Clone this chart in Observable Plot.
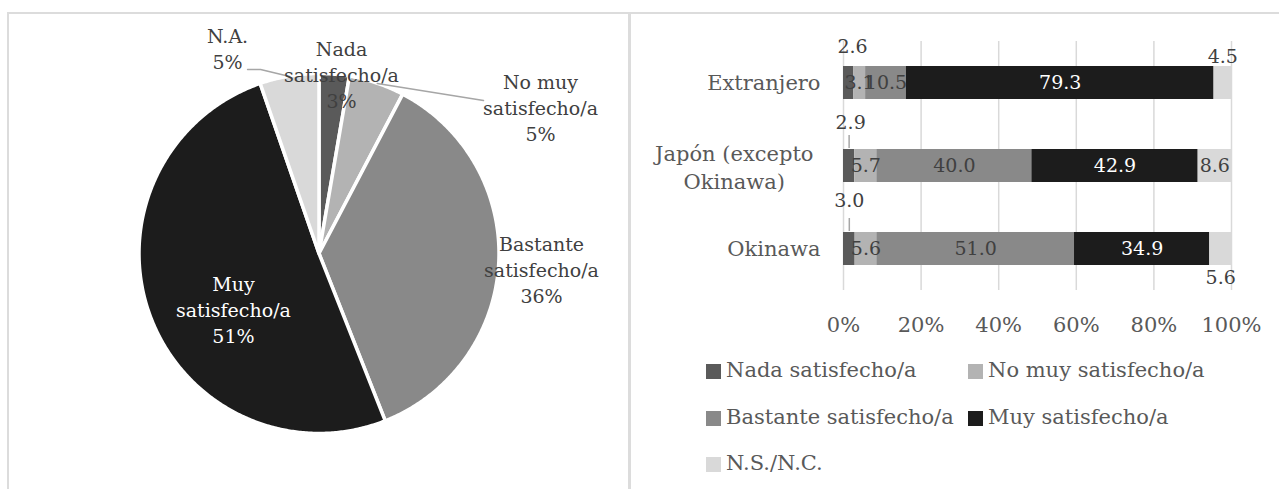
<!DOCTYPE html>
<html><head><meta charset="utf-8">
<script src="https://cdn.jsdelivr.net/npm/d3@7"></script>
<script src="https://cdn.jsdelivr.net/npm/@observablehq/plot@0.6"></script>
<style>
html,body{margin:0;padding:0;background:#fff;}
#root{position:relative;width:1279px;height:489px;overflow:hidden;font-family:"DejaVu Serif",serif;}
.panel{position:absolute;border:2px solid #dcdcdc;box-sizing:border-box;}
#pie,#bars{position:absolute;top:0;}
#pie{left:0;width:629px;}
#bars{left:632px;width:647px;}
.lg{position:absolute;display:flex;align-items:center;height:30px;font-size:21px;color:#595959;white-space:nowrap;}
.lg .sw{width:15px;height:15px;margin-right:5px;margin-top:3px;display:inline-block;}
svg{overflow:visible;max-width:none !important;}
</style></head>
<body><div id="root">
<div class="panel" style="left:7px;top:12px;width:623px;height:520px"></div>
<div class="panel" style="left:629px;top:12px;width:700px;height:520px"></div>
<div id="pie"></div>
<div id="bars"></div>
<div id="legend"></div>
</div>
<script>
// ---------- data ----------
const pieCats = ["Nada satisfecho/a", "No muy satisfecho/a", "Bastante satisfecho/a", "Muy satisfecho/a", "N.A."];
const pieValues = [2.7, 5.0, 36.3, 50.7, 5.3];
const grayColors = ["#5a5a5a", "#b3b3b3", "#898989", "#1c1c1c", "#d9d9d9"];

const barCats = ["Extranjero", "Japón (excepto Okinawa)", "Okinawa"];
const barSeries = ["Nada satisfecho/a", "No muy satisfecho/a", "Bastante satisfecho/a", "Muy satisfecho/a", "N.S./N.C."];
const nada = [2.6, 2.9, 3.0];
const noMuy = [3.1, 5.7, 5.6];
const bastante = [10.5, 40.0, 51.0];
const muy = [79.3, 42.9, 34.9];
const nsnc = [4.5, 8.6, 5.6];
const xTicks = [0, 0.2, 0.4, 0.6, 0.8, 1];

// ---------- pie ----------
const PW = 629, PH = 489, CX = 319, CY = 253.5, R = 180;
const total = d3.sum(pieValues);
let acc = 0;
const slices = pieCats.map((c, i) => {
  const a0 = acc / total * 2 * Math.PI; acc += pieValues[i];
  const a1 = acc / total * 2 * Math.PI;
  return {cat: c, value: pieValues[i], a0, a1, mid: (a0 + a1) / 2};
});
const arcPts = slices.flatMap(s => {
  const n = Math.max(2, Math.ceil((s.a1 - s.a0) / (Math.PI / 360)));
  return d3.range(n + 1).map(k => {
    const a = s.a0 + (s.a1 - s.a0) * k / n;
    return {cat: s.cat, x1: Math.sin(a), y1: Math.cos(a), x2: 0, y2: 0};
  });
});
// label placement (polar: degrees clockwise from 12 o'clock, radius factor)
const pieLabelPlace = {
  "Nada satisfecho/a": [6.95, 1.01],
  "No muy satisfecho/a": [56.3, 1.476],
  "Bastante satisfecho/a": [93.7, 1.236],
  "Muy satisfecho/a": [237.6, 0.566],
  "N.A.": [336, 1.256]
};
const pieLeaderPath = {
  "No muy satisfecho/a": [[46.9, 1.248]],
  "N.A.": [[342.3, 1.076], [338.7, 1.100]]
};
const polar = (deg, r) => [r * Math.sin(deg * Math.PI / 180), r * Math.cos(deg * Math.PI / 180)];
const pieLabels = slices.map(s => {
  const [x, y] = polar(...pieLabelPlace[s.cat]);
  return {cat: s.cat, x, y,
    text: s.cat.replace(" satisfecho/a", "\nsatisfecho/a") + "\n" + Math.round(s.value) + "%"};
});
const leaderPts = slices.filter(s => pieLeaderPath[s.cat]).flatMap(s => {
  const start = {cat: s.cat, x: Math.sin(s.mid), y: Math.cos(s.mid)};
  return [start, ...pieLeaderPath[s.cat].map(p => { const [x, y] = polar(...p); return {cat: s.cat, x, y}; })];
});

const pie = Plot.plot({
  width: PW, height: PH,
  marginLeft: CX - R, marginRight: PW - CX - R, marginTop: CY - R, marginBottom: PH - CY - R,
  x: {domain: [-1, 1], axis: null},
  y: {domain: [-1, 1], axis: null},
  color: {domain: pieCats, range: grayColors},
  style: {fontFamily: "DejaVu Serif", fontSize: "19px", background: "transparent", overflow: "visible"},
  marks: [
    Plot.area(arcPts, {x1: "x1", y1: "y1", x2: "x2", y2: "y2", z: "cat", fill: "cat", stroke: "white", strokeWidth: 3.5}),
    Plot.line(leaderPts, {x: "x", y: "y", z: "cat", stroke: "#a6a6a6", strokeWidth: 1.5}),
    Plot.text(pieLabels.filter(d => d.cat !== "Muy satisfecho/a"), {x: "x", y: "y", text: "text", fill: "#404040", lineAnchor: "middle", lineHeight: 26 / 19}),
    Plot.text(pieLabels.filter(d => d.cat === "Muy satisfecho/a"), {x: "x", y: "y", text: "text", fill: "white", lineAnchor: "middle", lineHeight: 26 / 19})
  ]
});
document.getElementById("pie").appendChild(pie);

// ---------- stacked bars ----------
const rows = [];
barCats.forEach((c, i) => {
  const vals = [nada[i], noMuy[i], bastante[i], muy[i], nsnc[i]];
  const tot = d3.sum(vals);
  let a = 0;
  barSeries.forEach((s, j) => {
    rows.push({cat: c, series: s, value: vals[j], mid: (a + vals[j] / 2) / tot});
    a += vals[j];
  });
});
const barLabelPlace = {
  "Extranjero|Nada satisfecho/a": {dx: 4, dy: -36.5},
  "Japón (excepto Okinawa)|Nada satisfecho/a": {dx: 1.5, dy: -43.5},
  "Okinawa|Nada satisfecho/a": {dx: 0, dy: -48.5},
  "Extranjero|N.S./N.C.": {dx: 0, dy: -26},
  "Okinawa|N.S./N.C.": {dx: 0, dy: 29}
};
const leaderKeys = ["Japón (excepto Okinawa)|Nada satisfecho/a", "Okinawa|Nada satisfecho/a"];
const fmt = d3.format(".1f");
const groups = d3.groups(rows, d => {
  const p = barLabelPlace[d.cat + "|" + d.series];
  const fill = (!p && d.series === "Muy satisfecho/a") ? "white" : "#404040";
  return JSON.stringify([p ? p.dx : 0, p ? p.dy : 0, fill]);
});
const labelMarks = groups.map(([k, data]) => {
  const [dx, dy, fill] = JSON.parse(k);
  return Plot.text(data, {x: "mid", y: "cat", text: d => fmt(d.value), dx, dy, fill, fontSize: 19});
});

// category labels (wrapped like the reference)
const ctx = document.createElement("canvas").getContext("2d");
ctx.font = '21px "DejaVu Serif"';
function wrap(s, maxW) {
  const words = s.split(" "); const lines = []; let cur = "";
  for (const w of words) {
    const t = cur ? cur + " " + w : w;
    if (cur && ctx.measureText(t).width > maxW) { lines.push(cur); cur = w; } else cur = t;
  }
  lines.push(cur); return lines;
}
const catMarks = barCats.map(c => {
  const lines = wrap(c, 190);
  if (lines.length === 1)
    return Plot.text([c], {y: d => d, frameAnchor: "left", textAnchor: "end", dx: -23, fill: "#595959", fontSize: 21});
  const w = d3.max(lines, l => ctx.measureText(l).width);
  return Plot.text([c], {y: d => d, text: () => lines.join("\n"), frameAnchor: "left", textAnchor: "middle", dx: -(30 + w / 2), lineHeight: 28 / 21, fill: "#595959", fontSize: 21});
});

const bars = Plot.plot({
  width: 647, height: 350,
  marginLeft: 211, marginRight: 48, marginTop: 41, marginBottom: 60,
  x: {domain: [0, 1], axis: null},
  y: {domain: barCats, paddingInner: 0.6, paddingOuter: 0.3, axis: null},
  color: {domain: barSeries, range: grayColors},
  style: {fontFamily: "DejaVu Serif", fontSize: "21px", color: "#595959", background: "transparent", overflow: "visible"},
  marks: [
    Plot.ruleX(xTicks, {stroke: "#d9d9d9", strokeWidth: 1.5}),
    Plot.barX(rows, Plot.stackX({x: "value", y: "cat", fill: "series", order: barSeries, offset: "normalize"})),
    Plot.tickX(rows.filter(d => leaderKeys.includes(d.cat + "|" + d.series)), {x: "mid", y: "cat", dy: -16, insetTop: 2, insetBottom: 18, stroke: "#a6a6a6", strokeWidth: 1.5}),
    ...labelMarks,
    ...catMarks,
    Plot.axisX({ticks: xTicks, tickFormat: d3.format(".0%"), tickSize: 0, tickPadding: 27, fontSize: 21, fill: "#595959", label: null})
  ]
});
document.getElementById("bars").appendChild(bars);

// ---------- legend ----------
const legend = document.getElementById("legend");
barSeries.forEach((s, i) => {
  const col = i % 2, row = Math.floor(i / 2);
  const el = document.createElement("div");
  el.className = "lg";
  el.style.left = (706 + col * 262) + "px";
  el.style.top = (370 + row * 46.5 - 15) + "px";
  el.innerHTML = `<span class="sw" style="background:${grayColors[i]}"></span><span></span>`;
  el.lastChild.textContent = s;
  legend.appendChild(el);
});
</script>
</body></html>
